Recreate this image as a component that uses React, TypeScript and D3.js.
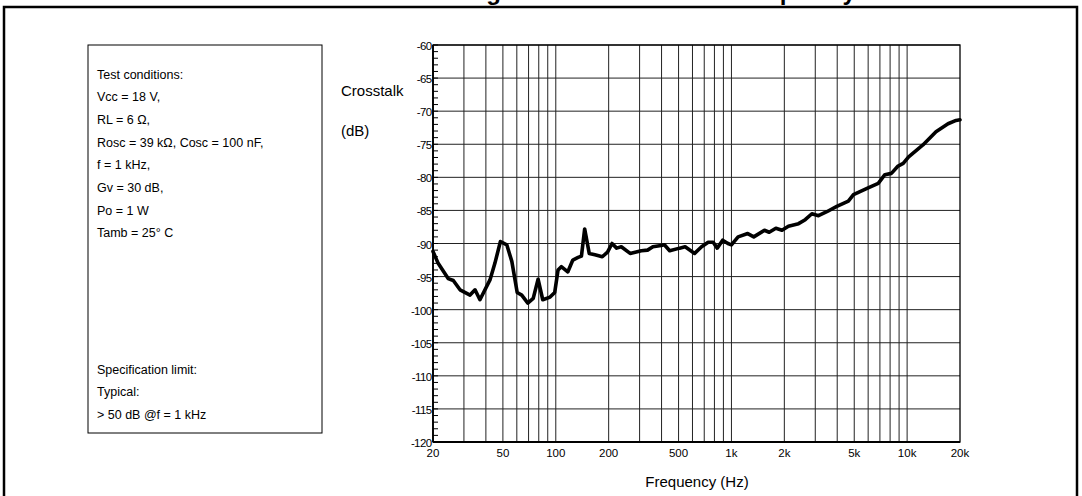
import React from "react";
import * as d3 from "d3";

// ---- Data ----
const freqHz: number[] = [
  20, 21.4, 24.4, 26.1, 28.5, 32.5, 34.7, 37.0, 42.2, 45.0, 48.4, 52.6, 56.2, 60.3, 64, 69.3,
  74.4, 79.3, 84.3, 92.8, 98.6, 103, 107.5, 117, 125, 134, 140, 146, 155, 167, 184, 197,
  209, 222, 236, 265, 307, 333, 357, 398, 415, 445, 507, 545, 617, 676, 737, 787, 830, 891,
  955, 1000, 1091, 1238, 1340, 1540, 1640, 1790, 1940, 2110, 2410, 2630, 2870, 3130, 3490,
  3980, 4630, 4950, 5870, 6850, 7470, 8140, 8880, 9500, 10200, 12300, 14600, 17100, 19000, 20000,
];
const crosstalkDb: number[] = [
  -91.2, -93.0, -95.3, -95.6, -97.0, -97.8, -97.0, -98.5, -95.5, -93.0, -89.7, -90.2, -92.7, -97.4, -97.8, -99.0,
  -98.3, -95.4, -98.5, -98.1, -97.4, -94.0, -93.5, -94.3, -92.5, -92.1, -91.9, -87.8, -91.5, -91.7, -92.0, -91.3,
  -90.0, -90.7, -90.5, -91.5, -91.1, -91.0, -90.5, -90.3, -90.2, -91.1, -90.7, -90.5, -91.5, -90.5, -89.8, -89.8, -90.7, -89.5,
  -90.0, -90.2, -89.0, -88.5, -89.0, -88.0, -88.3, -87.7, -88.0, -87.4, -87.0, -86.4, -85.5, -85.8, -85.2,
  -84.4, -83.6, -82.6, -81.7, -80.9, -79.6, -79.4, -78.3, -77.9, -76.9, -75.1, -73.1, -71.9, -71.4, -71.3,
];
const xTickValues: number[] = [20, 50, 100, 200, 500, 1000, 2000, 5000, 10000, 20000];
const xTickLabels: string[] = ["20", "50", "100", "200", "500", "1k", "2k", "5k", "10k", "20k"];
const yTickValues: number[] = [-60, -65, -70, -75, -80, -85, -90, -95, -100, -105, -110, -115, -120];
const conditionLines: string[] = [
  "Test conditions:",
  "Vcc = 18 V,",
  "RL = 6 \u03A9,",
  "Rosc = 39 k\u03A9, Cosc = 100 nF,",
  "f = 1 kHz,",
  "Gv = 30 dB,",
  "Po = 1 W",
  "Tamb = 25\u00B0 C",
];
const specLines: string[] = ["Specification limit:", "Typical:", "> 50 dB @f = 1 kHz"];
const titleText = "Figure 18. Crosstalk vs. frequency";

const W = 1082;
const H = 496;
const FONT = "'Liberation Sans', Arial, Helvetica, sans-serif";

export default function App() {
  const x = d3.scaleLog().domain([20, 20000]).range([433, 960]);
  const y = d3.scaleLinear().domain([-120, -60]).range([442, 45]);

  // vertical grid at 1..9 x decade
  const xGrid: number[] = [];
  for (let dec = 10; dec <= 10000; dec *= 10) {
    for (let m = 1; m <= 9; m++) {
      const v = m * dec;
      if (v > 20 && v < 20000) xGrid.push(v);
    }
  }
  const yMinor = d3.range(-120, -59, 1);

  const pts: [number, number][] = freqHz.map((f, i) => [f, crosstalkDb[i]]);
  const line = d3
    .line<[number, number]>()
    .x((d) => x(d[0]))
    .y((d) => y(d[1]));

  const [x0, x1] = x.range();
  const [yb, yt] = y.range();

  return (
    <svg
      width={W}
      height={H}
      viewBox={`0 0 ${W} ${H}`}
      style={{ position: "absolute", left: 0, top: 0, background: "#fff" }}
      fontFamily={FONT}
    >
      <rect x={0} y={0} width={W} height={H} fill="#fff" />
      {/* cut-off caption */}
      <text x={465} y={-0.5} fontSize={24} fontWeight="bold" fill="#000">
        {titleText}
      </text>
      {/* outer frame */}
      <rect x={4} y={7} width={1073} height={H + 10} fill="none" stroke="#000" strokeWidth={2.5} />

      {/* conditions box */}
      <rect x={88} y={45} width={234} height={388} fill="none" stroke="#000" strokeWidth={1} />
      {conditionLines.map((t, i) => (
        <text key={"c" + i} x={97} y={78.5 + i * 22.7} fontSize={12.5} fill="#000">
          {t}
        </text>
      ))}
      {specLines.map((t, i) => (
        <text key={"s" + i} x={97} y={373.5 + i * 22.7} fontSize={12.5} fill="#000">
          {t}
        </text>
      ))}

      {/* grid */}
      {xGrid.map((v) => (
        <line key={"gx" + v} x1={x(v)} x2={x(v)} y1={yt} y2={yb} stroke="#222" strokeWidth={1} />
      ))}
      {yTickValues.map((v) => (
        <line key={"gy" + v} x1={x0} x2={x1} y1={y(v)} y2={y(v)} stroke="#222" strokeWidth={1} />
      ))}
      {/* minor y ticks */}
      {yMinor.map((v) => (
        <line key={"my" + v} x1={x0} x2={x0 + 5} y1={y(v)} y2={y(v)} stroke="#000" strokeWidth={1} />
      ))}
      {/* frame of plot */}
      <rect x={x0} y={yt} width={x1 - x0} height={yb - yt} fill="none" stroke="#000" strokeWidth={1.3} />
      <line x1={x0} x2={x0} y1={yt} y2={yb} stroke="#000" strokeWidth={1.8} />
      <line x1={x0} x2={x1} y1={yb} y2={yb} stroke="#000" strokeWidth={1.8} />

      {/* y tick labels */}
      {yTickValues.map((v) => (
        <text
          key={"ty" + v}
          x={x0 - 1.5}
          y={y(v) + 5}
          fontSize={11.5}
          textAnchor="end"
          letterSpacing={-0.6}
          fill="#000"
        >
          {String(v)}
        </text>
      ))}
      {/* x tick labels */}
      {xTickValues.map((v, i) => (
        <text key={"tx" + v} x={x(v)} y={457} fontSize={11.5} textAnchor="middle" fill="#000">
          {xTickLabels[i]}
        </text>
      ))}

      {/* axis titles */}
      <text x={341} y={96} fontSize={15} fill="#000">
        Crosstalk
      </text>
      <text x={341} y={136} fontSize={15} fill="#000">
        (dB)
      </text>
      <text x={697} y={487} fontSize={15} textAnchor="middle" fill="#000">
        Frequency (Hz)
      </text>

      {/* data */}
      <path
        d={line(pts) || ""}
        fill="none"
        stroke="#000"
        strokeWidth={3.6}
        strokeLinejoin="round"
        strokeLinecap="round"
      />
    </svg>
  );
}
